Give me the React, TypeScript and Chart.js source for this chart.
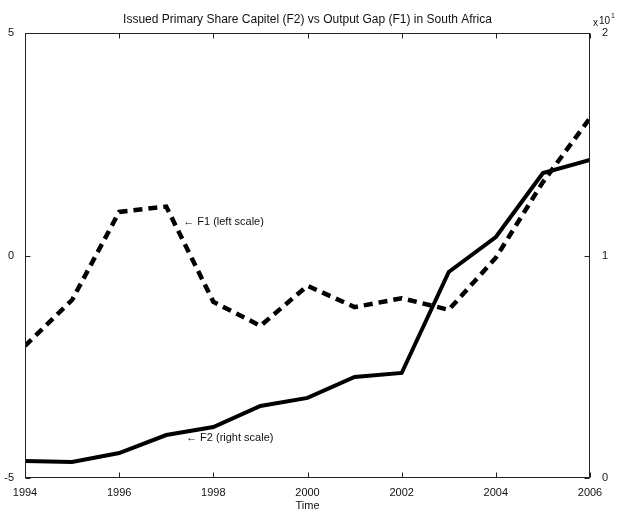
import { useEffect, useRef } from "react";
import { Chart, registerables } from "chart.js";

Chart.register(...registerables);

const years = [1994, 1995, 1996, 1997, 1998, 1999, 2000, 2001, 2002, 2003, 2004, 2005, 2006];
// F1: Output gap (left scale)
const f1OutputGap = [-2.03, -1.0, 0.98, 1.1, -1.04, -1.58, -0.68, -1.16, -0.96, -1.22, -0.05, 1.65, 3.09];
// F2: Issued primary share capital (right scale, raw units; axis shown x10^1)
const f2ShareCapital = [0.76, 0.72, 1.12, 1.93, 2.29, 3.24, 3.6, 4.54, 4.72, 9.26, 10.83, 13.71, 14.29];

const xTicks = [1994, 1996, 1998, 2000, 2002, 2004, 2006];
const leftTicks = [-5, 0, 5];
const rightTicks = [0, 10, 20];

const titleText = "Issued Primary Share Capitel (F2) vs Output Gap (F1) in South Africa";
const xTitle = "Time";
const f1Label = "\u2190 F1 (left scale)";
const f2Label = "\u2190 F2 (right scale)";
const f1LabelAt = { x: 1997.36, y: 0.75 };
const f2LabelAt = { x: 1997.42, y: 1.8 };

const FONT = '"Liberation Sans", Arial, Helvetica, sans-serif';

const decorPlugin = {
  id: "decor",
  afterDraw(chart: any) {
    const { ctx, chartArea: a, scales } = chart;
    const L = Math.round(a.left) + 0.5;
    const R = Math.round(a.right) - 0.5;
    const T = Math.round(a.top) + 0.5;
    const B = Math.round(a.bottom) - 0.5;
    ctx.save();
    ctx.strokeStyle = "#222";
    ctx.lineWidth = 1;
    ctx.strokeRect(L, T, R - L, B - T);
    const tl = 5;
    ctx.beginPath();
    scales.x.ticks.forEach((t: any) => {
      const px = Math.round(scales.x.getPixelForValue(t.value)) + 0.5;
      ctx.moveTo(px, B);
      ctx.lineTo(px, B - tl);
      ctx.moveTo(px, T);
      ctx.lineTo(px, T + tl);
    });
    scales.yL.ticks.forEach((t: any) => {
      const py = Math.round(scales.yL.getPixelForValue(t.value)) + 0.5;
      ctx.moveTo(L, py);
      ctx.lineTo(L + tl, py);
    });
    scales.yR.ticks.forEach((t: any) => {
      const py = Math.round(scales.yR.getPixelForValue(t.value)) + 0.5;
      ctx.moveTo(R, py);
      ctx.lineTo(R - tl, py);
    });
    ctx.stroke();

    ctx.fillStyle = "#111";
    ctx.textBaseline = "middle";
    ctx.textAlign = "center";
    ctx.font = `12px ${FONT}`;
    const cx = (a.left + a.right) / 2;
    ctx.fillText(titleText, cx, a.top - 13);
    ctx.font = `11px ${FONT}`;
    ctx.fillText(xTitle, cx, a.bottom + 28);

    // exponent x10^1
    ctx.textAlign = "left";
    ctx.font = `10px ${FONT}`;
    ctx.fillText("x", a.right + 3, a.top - 10);
    ctx.fillText("10", a.right + 9, a.top - 12);
    ctx.font = `7px ${FONT}`;
    ctx.fillText("1", a.right + 21, a.top - 17);

    // annotations
    ctx.font = `11px ${FONT}`;
    ctx.fillText(f1Label, scales.x.getPixelForValue(f1LabelAt.x), scales.yL.getPixelForValue(f1LabelAt.y));
    ctx.fillText(f2Label, scales.x.getPixelForValue(f2LabelAt.x), scales.yR.getPixelForValue(f2LabelAt.y));
    ctx.restore();
  },
};

export default function App() {
  const ref = useRef<HTMLCanvasElement | null>(null);
  useEffect(() => {
    if (!ref.current) return;
    const tickFont = { family: FONT, size: 11 };
    const chart = new Chart(ref.current, {
      type: "line",
      data: {
        datasets: [
          {
            label: "F1",
            data: years.map((x, i) => ({ x, y: f1OutputGap[i] })),
            yAxisID: "yL",
            borderColor: "#000",
            borderWidth: 4.5,
            borderDash: [9, 6],
            pointRadius: 0,
            tension: 0,
            fill: false,
          },
          {
            label: "F2",
            data: years.map((x, i) => ({ x, y: f2ShareCapital[i] })),
            yAxisID: "yR",
            borderColor: "#000",
            borderWidth: 4,
            pointRadius: 0,
            tension: 0,
            fill: false,
          },
        ],
      },
      options: {
        animation: false,
        responsive: false,
        layout: { padding: { top: 33, left: 0, right: 0, bottom: 0 } },
        plugins: { legend: { display: false }, tooltip: { enabled: false }, title: { display: false } },
        scales: {
          x: {
            type: "linear",
            min: 1994,
            max: 2006,
            grid: { display: false },
            border: { display: false },
            ticks: {
              font: tickFont,
              color: "#111",
              padding: 0,
              maxRotation: 0,
              callback: (v: any) => String(v),
            },
            afterBuildTicks: (s: any) => {
              s.ticks = xTicks.map((v) => ({ value: v }));
            },
            afterFit: (s: any) => {
              s.height = 35;
            },
          },
          yL: {
            type: "linear",
            position: "left",
            min: -5,
            max: 5,
            grid: { display: false },
            border: { display: false },
            ticks: { font: tickFont, color: "#111", padding: 3, callback: (v: any) => String(v) },
            afterBuildTicks: (s: any) => {
              s.ticks = leftTicks.map((v) => ({ value: v }));
            },
            afterFit: (s: any) => {
              s.width = 25;
            },
          },
          yR: {
            type: "linear",
            position: "right",
            min: 0,
            max: 20,
            grid: { display: false },
            border: { display: false },
            ticks: {
              font: tickFont,
              color: "#111",
              padding: 4,
              callback: (v: any) => String(Number(v) / 10),
            },
            afterBuildTicks: (s: any) => {
              s.ticks = rightTicks.map((v) => ({ value: v }));
            },
            afterFit: (s: any) => {
              s.width = 27;
            },
          },
        },
      },
      plugins: [decorPlugin],
    } as any);
    return () => chart.destroy();
  }, []);
  return (
    <div style={{ position: "absolute", left: 0, top: 0, width: 617, height: 513, background: "#fff" }}>
      <canvas ref={ref} width={617} height={513} style={{ display: "block" }} />
    </div>
  );
}
